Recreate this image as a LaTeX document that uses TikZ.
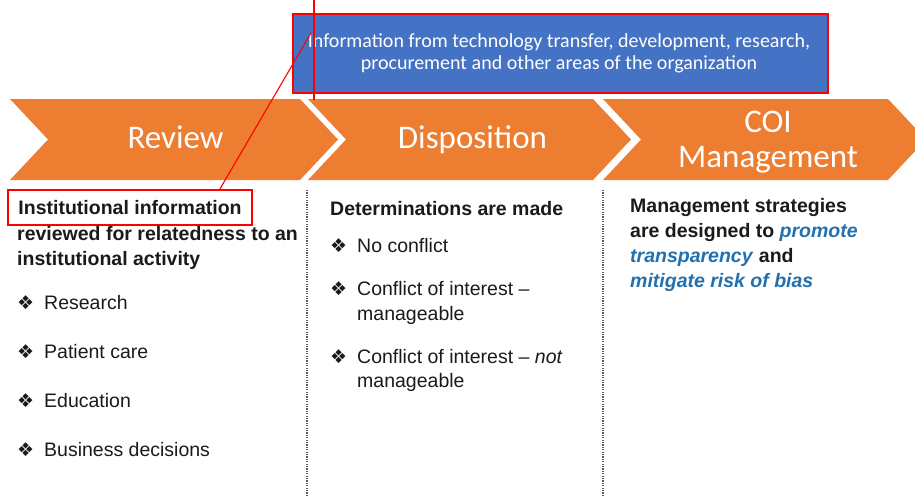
\documentclass[tikz,border=0pt]{standalone}
\usepackage{fontspec}
\setmainfont{Liberation Sans}
\newfontfamily\calfont{Carlito}
\newfontfamily\symfont{DejaVu Sans}
\definecolor{chev}{HTML}{ED7D31}
\definecolor{boxblue}{HTML}{4472C4}
\definecolor{emblue}{HTML}{2270AE}
\definecolor{txt}{HTML}{1A1A1A}
\begin{document}
\begin{tikzpicture}[x=1pt,y=-1pt,
  chevron/.style={fill=chev},
  chevlabel/.style={anchor=base, inner sep=0, text=white, font=\calfont\fontsize{33}{38}\selectfont},
  body/.style={anchor=base west, inner sep=0, text=txt, font=\fontsize{19.5}{25}\selectfont},
  head/.style={anchor=base west, inner sep=0, text=txt, font=\bfseries\fontsize{19.5}{25}\selectfont},
  bul/.style={anchor=base west, inner sep=0, text=txt, font=\symfont\fontsize{19}{20}\selectfont},
  colsep/.style={draw=black!65, line width=1.2pt, dash pattern=on 1.2pt off 1.2pt},
  redline/.style={draw=red, line width=1.1pt}]
\useasboundingbox (0,0) rectangle (915,495);
\clip (0,0) rectangle (915,495);

% chevrons
\fill[chevron] (10,99) -- (300,99) -- (338,139.5) -- (300,180) -- (10,180) -- (48,139.5) -- cycle;
\fill[chevron] (308,99) -- (593,99) -- (631,139.5) -- (593,180) -- (308,180) -- (346,139.5) -- cycle;
\fill[chevron] (603,99) -- (888,99) -- (926,139.5) -- (888,180) -- (603,180) -- (641,139.5) -- cycle;

\node[chevlabel] (review) at (175.5,148) {Review};
\node[chevlabel] (dispo) at (472.5,148) {Disposition};
\node[chevlabel] (coi) at (768,132) {COI};
\node[chevlabel] (mgmt) at (768,167) {Management};

% top information box
\node[fill=boxblue, draw=red, line width=1.3pt, minimum width=535, minimum height=79, inner sep=0] (info) at (560.5,53.5) {};
\node[anchor=base, inner sep=0, text=white, font=\calfont\fontsize{20}{22}\selectfont] (info1) at (559,48) {Information from technology transfer, development, research,};
\node[anchor=base, inner sep=0, text=white, font=\calfont\fontsize{20}{22}\selectfont] (info2) at (559,70) {procurement and other areas of the organization};

% column separators
\coordinate (s1t) at (307,190); \coordinate (s1b) at (307,495);
\coordinate (s2t) at (603,190); \coordinate (s2b) at (603,495);
\draw[colsep] (s1t) -- (s1b);
\draw[colsep] (s2t) -- (s2b);

% column 1
\node[draw=red, line width=2.2pt, minimum width=244, minimum height=35, inner sep=0, text=txt, font=\bfseries\fontsize{19.5}{25}\selectfont] (hl) at (130,207.5) {Institutional information};
\node[head] (c1h2) at (17,240) {reviewed for relatedness to an};
\node[head] (c1h3) at (17,265) {institutional activity};
\node[bul] (b11) at (17,309) {❖};
\node[body] (t11) at (44,309) {Research};
\node[bul] (b12) at (17,358) {❖};
\node[body] (t12) at (44,358) {Patient care};
\node[bul] (b13) at (17,407) {❖};
\node[body] (t13) at (44,407) {Education};
\node[bul] (b14) at (17,456) {❖};
\node[body] (t14) at (44,456) {Business decisions};

% column 2
\node[head] (c2h) at (330,215) {Determinations are made};
\node[bul] (b21) at (330,252) {❖};
\node[body] (t21) at (357,252) {No conflict};
\node[bul] (b22) at (330,295) {❖};
\node[body] (t22) at (357,295) {Conflict of interest –};
\node[body] (t22b) at (357,320) {manageable};
\node[bul] (b23) at (330,363) {❖};
\node[body] (t23) at (357,363) {Conflict of interest – \textit{not}};
\node[body] (t23b) at (357,387) {manageable};

% column 3
\node[head] (c3a) at (630,212) {Management strategies};
\node[head] (c3b) at (630,237) {are designed to \textcolor{emblue}{\textit{promote}}};
\node[head] (c3c) at (630,262) {\textcolor{emblue}{\textit{transparency}} and};
\node[head] (c3d) at (630,287) {\textcolor{emblue}{\textit{mitigate risk of bias}}};

% red annotation lines
\coordinate (vtop) at (314,0);
\coordinate (vbot) at (314,100);
\coordinate (diagtop) at (311,33);
\draw[redline] (vtop) -- (vbot);
\draw[redline] ([xshift=90pt]hl.north) -- (diagtop);
\end{tikzpicture}
\end{document}
